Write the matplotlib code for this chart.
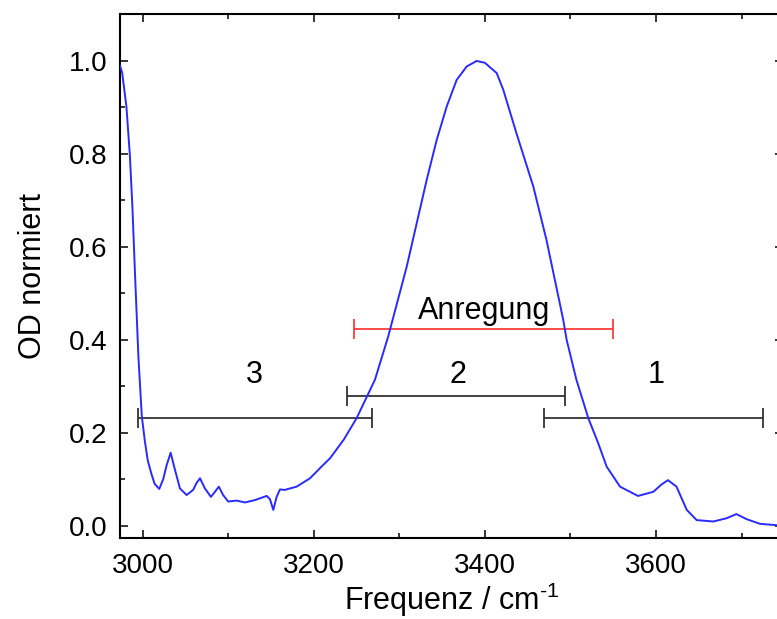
import matplotlib
matplotlib.use("Agg")
import matplotlib.pyplot as plt
from matplotlib.ticker import MultipleLocator, FormatStrFormatter

plt.rcParams['font.family'] = ['Liberation Sans', 'DejaVu Sans']
plt.rcParams['mathtext.fontset'] = 'custom'
plt.rcParams['mathtext.rm'] = 'Liberation Sans'
plt.rcParams['mathtext.default'] = 'regular'

# Spectrum
freq = [2973.5, 2976, 2981, 2985, 2988, 2991, 2995, 2999, 3002.7, 3006, 3010.5, 3014, 3019.4,
        3024, 3028, 3032.7, 3037.8, 3043.6, 3051.4, 3059, 3063, 3067, 3072.8, 3079.8, 3084.5,
        3089, 3094, 3100, 3109.9, 3119.6, 3131, 3145, 3148.8, 3152.7, 3156.6, 3160.5, 3166,
        3180, 3195.6, 3209, 3219, 3235, 3250, 3271.5, 3287, 3308.6, 3332, 3343.7, 3355.4,
        3367, 3378.7, 3390.4, 3400, 3413.8, 3421.5, 3437, 3456.6, 3472, 3491.6, 3495.6,
        3507, 3521, 3532.6, 3542.4, 3558, 3579, 3597, 3606, 3614, 3624, 3636, 3647.6, 3667,
        3682.6, 3694, 3706, 3721.6, 3748]
od = [0.99, 0.975, 0.902, 0.798, 0.686, 0.544, 0.364, 0.235, 0.180, 0.140, 0.110, 0.090, 0.079,
      0.100, 0.130, 0.157, 0.120, 0.080, 0.066, 0.077, 0.092, 0.102, 0.080, 0.062, 0.073,
      0.084, 0.066, 0.052, 0.054, 0.050, 0.055, 0.064, 0.057, 0.034, 0.062, 0.078, 0.077,
      0.084, 0.102, 0.127, 0.145, 0.185, 0.231, 0.314, 0.407, 0.557, 0.744, 0.830, 0.902,
      0.959, 0.988, 1.000, 0.996, 0.974, 0.938, 0.844, 0.730, 0.615, 0.443, 0.400,
      0.314, 0.231, 0.177, 0.127, 0.084, 0.064, 0.073, 0.088, 0.098, 0.084, 0.034, 0.012, 0.009,
      0.016, 0.025, 0.014, 0.004, 0.0]

# Probe ranges (start, end, height, label)
range_names = ["3", "2", "1"]
range_start = [2994, 3239, 3469.5]
range_end = [3268, 3494, 3725]
range_y = [0.231, 0.278, 0.231]
label_x = [3131, 3369, 3600]
label_y = [0.307, 0.307, 0.307]

exc_name = "Anregung"
exc_start, exc_end, exc_y = 3247, 3550, 0.423
exc_label_x, exc_label_y = 3399, 0.444

fig = plt.figure(figsize=(7.77, 6.19), dpi=100)
ax = fig.add_axes([120/777, 1-538/619, (783-120)/777, (538-14)/619])

ax.plot(freq, od, color='#2a2aff', lw=1.4, zorder=3)

for s, e, y in zip(range_start, range_end, range_y):
    c = (s + e) / 2
    ax.errorbar([c], [y], xerr=[(e - s) / 2], color='#333333', lw=1.3,
                capsize=7.5, capthick=1.3, fmt='none', zorder=2)
for n, x, y in zip(range_names, label_x, label_y):
    ax.text(x, y, n, ha='center', va='baseline', fontsize=22)

c = (exc_start + exc_end) / 2
ax.errorbar([c], [exc_y], xerr=[(exc_end - exc_start) / 2], color='#ff3b3b', lw=1.3,
            capsize=7.5, capthick=1.3, fmt='none', zorder=2)
ax.text(exc_label_x, exc_label_y, exc_name, ha='center', va='baseline', fontsize=22)

ax.set_xlim(2973.5, 3748.5)
ax.set_ylim(-0.0265, 1.101)
ax.xaxis.set_major_locator(MultipleLocator(200))
ax.xaxis.set_minor_locator(MultipleLocator(100))
ax.yaxis.set_major_locator(MultipleLocator(0.2))
ax.yaxis.set_minor_locator(MultipleLocator(0.1))
ax.yaxis.set_major_formatter(FormatStrFormatter('%.1f'))
ax.tick_params(which='both', direction='in', top=True, right=True, labelsize=20, width=1.1)
ax.tick_params(which='major', length=6)
ax.tick_params(which='minor', length=3.5)
ax.tick_params(axis='y', pad=9)
ax.tick_params(axis='x', pad=11)
for sp in ax.spines.values():
    sp.set_linewidth(1.5)

ax.set_xlabel('Frequenz / cm$^{\\text{-}1}$', fontsize=22, labelpad=1)
ax.set_ylabel('OD normiert', fontsize=22, labelpad=15)

fig.savefig('out.png', dpi=100)
